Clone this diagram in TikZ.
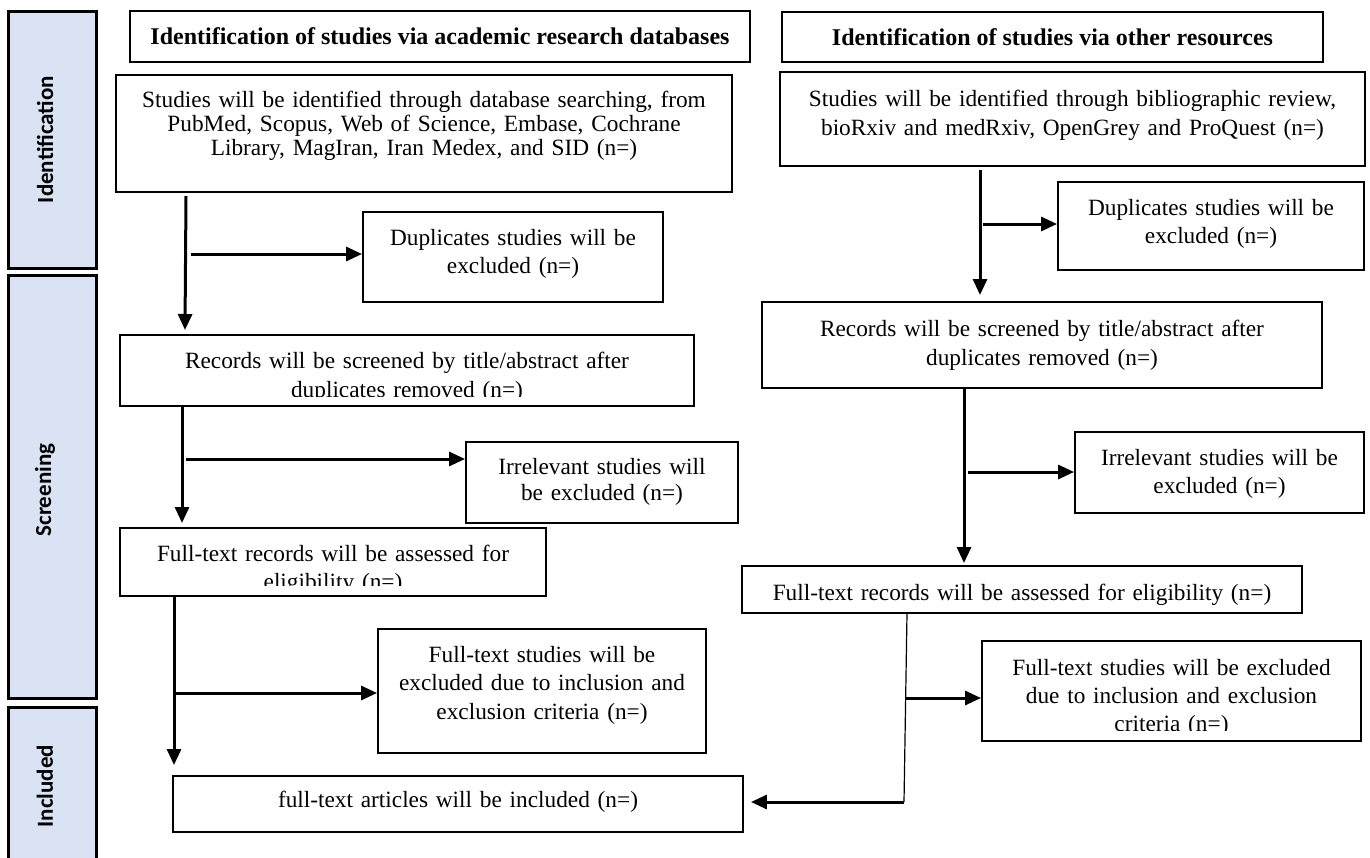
\documentclass[tikz,border=0pt]{standalone}
\usepackage{fontspec}
\setmainfont{Liberation Serif}
\newfontfamily\barfont{Carlito}
\usetikzlibrary{arrows.meta}
\definecolor{barblue}{RGB}{218,227,243}
\newcommand{\boxfont}{\fontsize{23.3}{28.3}\selectfont}
\newcommand{\widefont}{\fontsize{23.3}{29}\selectfont}
\newcommand{\tightfont}{\fontsize{23.3}{24}\selectfont}
\newcommand{\hdrfont}{\fontsize{24}{28}\selectfont\bfseries}
\newcommand{\phasefont}{\barfont\bfseries\fontsize{23}{23}\selectfont}
\begin{document}
\begin{tikzpicture}[x=1pt,y=-1pt,
  phase/.style={draw, line width=3pt, fill=barblue, minimum width=88pt, inner sep=0pt},
  phasetxt/.style={rotate=90, inner sep=0pt, font=\phasefont},
  hdr/.style={draw, line width=1.3pt, inner sep=0pt, font=\hdrfont},
  fbox/.style={draw, line width=1.9pt, inner sep=0pt},
  txt/.style={anchor=north, inner sep=0pt, align=center, font=\boxfont, yshift=#1},
  txt/.default=-14.2pt,
  arr/.style={line width=3pt, -{Triangle[length=16pt,width=14pt]}},
  thinln/.style={line width=1.2pt}]
\useasboundingbox (0,0) rectangle (1370,857);
\clip (0,0) rectangle (1370,857);
\fill[white] (0,0) rectangle (1370,857);

% phase bars
\node[phase, minimum height=257pt] (idb) at (52,139.5) {};
\node[phasetxt] (idt) at (45,139.5) {Identification};
\node[phase, minimum height=423pt] (scb) at (52,486.5) {};
\node[phasetxt] (sct) at (45,490) {Screening};
\node[phase, minimum height=159pt] (inb) at (52,786.5) {};
\node[phasetxt] (intx) at (45,786) {Included};

% headers
\node[hdr, minimum width=620pt, minimum height=51pt] (hdrL) at (440,36.5)
  {Identification of studies via academic research databases};
\node[hdr, minimum width=541pt, minimum height=50pt] (hdrR) at (1052.5,37)
  {Identification of studies via other resources};

% boxes (left column)
\node[fbox, minimum width=616pt, minimum height=117pt] (A1) at (424,133.5) {};
\node[txt=-16.5pt, font=\tightfont, text width=616pt] (A1t) at (A1.north)
  {\strut Studies will be identified through database searching, from\\
   PubMed, Scopus, Web of Science, Embase, Cochrane\\
   Library, MagIran, Iran Medex, and SID (n=)};

\node[fbox, minimum width=300pt, minimum height=90pt] (dupL) at (513,257) {};
\node[txt, text width=300pt] (dupLt) at (dupL.north)
  {\strut Duplicates studies will be\\ excluded (n=)};

\node[fbox, minimum width=574pt, minimum height=71pt] (recL) at (407,370.5) {};
\begin{scope}
  \clip (recL.north west) rectangle ([yshift=10pt]recL.south east);
  \node[txt=-14.8pt, text width=574pt] (recLt) at (recL.north)
    {\strut Records will be screened by title/abstract after\\ duplicates removed (n=)};
\end{scope}

\node[fbox, minimum width=272pt, minimum height=81pt] (irrL) at (602,482.5) {};
\node[txt, font=\fontsize{23.3}{26.5}\selectfont, text width=272pt] (irrLt) at (irrL.north)
  {\strut Irrelevant studies will\\ be excluded (n=)};

\node[fbox, minimum width=426pt, minimum height=68pt] (ftL) at (333,562) {};
\begin{scope}
  \clip (ftL.north west) rectangle ([yshift=11pt]ftL.south east);
  \node[txt, text width=426pt] (ftLt) at (ftL.north)
    {\strut Full-text records will be assessed for\\ eligibility (n=)};
\end{scope}

\node[fbox, minimum width=328pt, minimum height=124pt] (exL) at (542,691) {};
\node[txt=-14.6pt, text width=328pt] (exLt) at (exL.north)
  {\strut Full-text studies will be\\ excluded due to inclusion and\\ exclusion criteria (n=)};

\node[fbox, minimum width=570pt, minimum height=56pt] (inc) at (458,804) {};
\node[txt=-12.6pt, text width=570pt] (inct) at (inc.north)
  {\strut full-text articles will be included (n=)};

% boxes (right column)
\node[fbox, minimum width=585pt, minimum height=94pt] (B1) at (1072.5,119) {};
\node[txt=-14.6pt, font=\widefont, text width=585pt] (B1t) at (B1.north)
  {\strut Studies will be identified through bibliographic review,\\
   bioRxiv and medRxiv, OpenGrey and ProQuest (n=)};

\node[fbox, minimum width=306pt, minimum height=88pt] (dupR) at (1211,226) {};
\node[txt, text width=306pt] (dupRt) at (dupR.north)
  {\strut Duplicates studies will be\\ excluded (n=)};

\node[fbox, minimum width=560pt, minimum height=86pt] (recR) at (1042,345) {};
\node[txt=-14.6pt, font=\widefont, text width=560pt] (recRt) at (recR.north)
  {\strut Records will be screened by title/abstract after\\ duplicates removed (n=)};

\node[fbox, minimum width=289pt, minimum height=81pt] (irrR) at (1219.5,472.5) {};
\node[txt, text width=289pt] (irrRt) at (irrR.north)
  {\strut Irrelevant studies will be\\ excluded (n=)};

\node[fbox, minimum width=560pt, minimum height=47pt] (ftR) at (1022,589.5) {};
\node[txt=-15pt, text width=560pt] (ftRt) at (ftR.north)
  {\strut Full-text records will be assessed for eligibility (n=)};

\node[fbox, minimum width=379pt, minimum height=100pt] (exR) at (1171.5,691) {};
\begin{scope}
  \clip (exR.north west) rectangle ([yshift=11pt]exR.south east);
  \node[txt=-15pt, text width=379pt] (exRt) at (exR.north)
    {\strut Full-text studies will be excluded\\ due to inclusion and exclusion\\ criteria (n=)};
\end{scope}

% connectors (left column)
\coordinate (v1s) at (186,196);
\coordinate (v1e) at (185,330);
\draw[arr] (v1s) -- (v1e);
\coordinate (h1s) at (191,254);
\draw[arr] (h1s) -- (h1s -| dupL.west);

\coordinate (v2s) at (182,406);
\coordinate (v2e) at (182,523);
\draw[arr] (v2s) -- (v2e);
\coordinate (h2s) at (186,459);
\draw[arr] (h2s) -- (h2s -| irrL.west);

\coordinate (v3s) at (174,596);
\coordinate (v3e) at (174,765);
\draw[arr] (v3s) -- (v3e);
\coordinate (h3s) at (174,693);
\draw[arr] (h3s) -- (h3s -| exL.west);

% connectors (right column)
\coordinate (v4s) at (980,170);
\coordinate (v4e) at (980,295);
\draw[arr] (v4s) -- (v4e);
\coordinate (h4s) at (983,224);
\draw[arr] (h4s) -- (h4s -| dupR.west);

\coordinate (v5s) at (964,389);
\coordinate (v5e) at (964,563);
\draw[arr] (v5s) -- (v5e);
\coordinate (h5s) at (968,472);
\draw[arr] (h5s) -- (h5s -| irrR.west);

\coordinate (t1s) at (907,613);
\coordinate (t1e) at (904,802);
\draw[thinln] (t1s) -- (t1e);
\coordinate (h6s) at (905,698);
\draw[arr] (h6s) -- (h6s -| exR.west);
\draw[arr] (t1e) -- ([xshift=7pt]t1e -| inc.east);
\end{tikzpicture}
\end{document}
